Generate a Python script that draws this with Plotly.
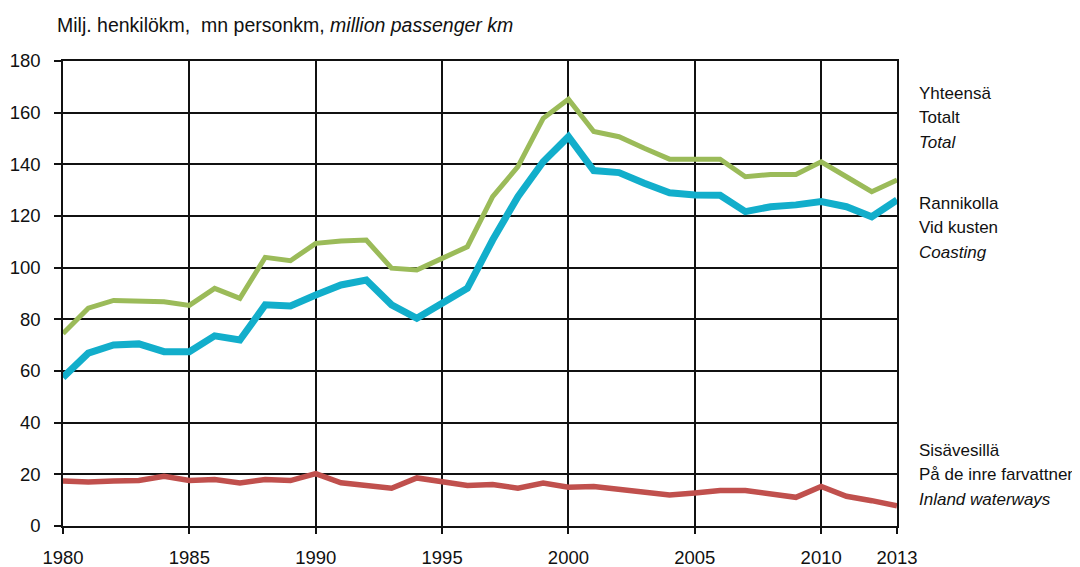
import plotly.graph_objects as go

years = list(range(1980, 2014))

total = [74.5, 84.3, 87.3, 87.2, 86.8, 85.4, 92.0, 88.1, 104.0, 102.7,
         109.4, 110.3, 110.7, 99.8, 99.1, 103.6, 108.1, 127.5, 139.1, 157.8,
         165.2, 152.7, 150.7, 146.2, 142.0, 142.0, 142.0, 135.2, 136.1, 136.1,
         141.0, 135.2, 129.4, 133.9]

coasting = [57.5, 66.9, 70.1, 70.5, 67.5, 67.5, 73.6, 72.0, 85.6, 85.2,
            89.4, 93.3, 95.2, 85.6, 80.4, 86.2, 92.0, 110.7, 127.5, 141.0,
            150.7, 137.6, 136.8, 132.7, 129.0, 128.1, 128.0, 121.7, 123.6, 124.3,
            125.6, 123.6, 119.7, 126.2]

inland = [17.4, 17.0, 17.4, 17.6, 19.2, 17.6, 18.0, 16.7, 18.0, 17.6,
          20.3, 16.7, 15.7, 14.6, 18.6, 17.3, 15.7, 16.1, 14.6, 16.6,
          15.0, 15.3, 14.1, 13.1, 12.0, 12.8, 13.7, 13.7, 12.4, 11.1,
          15.3, 11.5, 9.8, 7.8]

x_tickvals = [1980, 1985, 1990, 1995, 2000, 2005, 2010, 2013]
y_tickvals = [0, 20, 40, 60, 80, 100, 120, 140, 160, 180]

title_text = "Milj. henkilökm,  mn personkm, <i>million passenger km</i>"
label_total = ["Yhteensä", "Totalt", "<i>Total</i>"]
label_coast = ["Rannikolla", "Vid kusten", "<i>Coasting</i>"]
label_inland = ["Sisävesillä", "På de inre farvattnen", "<i>Inland waterways</i>"]

FONT = "Liberation Sans, Arial, sans-serif"
GREEN = "#9BBB59"
BLUE = "#12AECB"
RED = "#C0504D"

# page body has an 8px default margin, so the figure is sized to fit the window
W, H = 1072, 559
L, R, T, B = 55, 183, 53, 41
PLOT_TOP, PLOT_BOTTOM = T, H - B

fig = go.Figure()
fig.add_trace(go.Scatter(x=years, y=inland, mode="lines",
                         line=dict(color=RED, width=5.5), name="Inland"))
fig.add_trace(go.Scatter(x=years, y=total, mode="lines",
                         line=dict(color=GREEN, width=5), name="Total"))
fig.add_trace(go.Scatter(x=years, y=coasting, mode="lines",
                         line=dict(color=BLUE, width=7), name="Coasting"))

fig.update_layout(
    width=W, height=H,
    margin=dict(l=L, r=R, t=T, b=B),
    paper_bgcolor="white", plot_bgcolor="white",
    showlegend=False,
    font=dict(family=FONT, size=17, color="#111111"),
)

fig.update_xaxes(
    range=[1980, 2013], tickvals=x_tickvals,
    showgrid=True, gridcolor="#111111", gridwidth=1.5,
    showline=True, linecolor="#111111", linewidth=1.5, mirror=True,
    ticks="outside", ticklen=6, tickcolor="#111111", tickwidth=1.5,
    ticklabelstandoff=8,
    tickfont=dict(family=FONT, size=18.5, color="#111111"),
    zeroline=False, fixedrange=True, automargin=False,
)
fig.update_yaxes(
    range=[0, 180], tickvals=y_tickvals,
    showgrid=True, gridcolor="#111111", gridwidth=1.5,
    showline=True, linecolor="#111111", linewidth=1.5, mirror=True,
    ticks="outside", ticklen=7, tickcolor="#111111", tickwidth=1.5,
    ticklabelstandoff=10,
    tickfont=dict(family=FONT, size=18.5, color="#111111"),
    zeroline=False, fixedrange=True, automargin=False,
)

fig.add_annotation(text=title_text, xref="paper", yref="paper",
                   x=0, xshift=-8, y=1.0, yshift=36, xanchor="left", yanchor="middle",
                   showarrow=False, font=dict(family=FONT, size=19.5, color="#111111"))

def side_label(lines, y_first_px):
    # y_first_px is measured in window pixels (figure offset by 8px)
    for i, t in enumerate(lines):
        ypx = y_first_px - 8 + i * 24.5
        yfrac = (PLOT_BOTTOM - ypx) / (PLOT_BOTTOM - PLOT_TOP)
        fig.add_annotation(text=t, xref="paper", yref="paper",
                           x=1.0, xshift=20, y=yfrac, xanchor="left", yanchor="middle",
                           showarrow=False, font=dict(family=FONT, size=17, color="#111111"))

side_label(label_total, 93)
side_label(label_coast, 203)
side_label(label_inland, 450)

fig.write_html("out.html")
